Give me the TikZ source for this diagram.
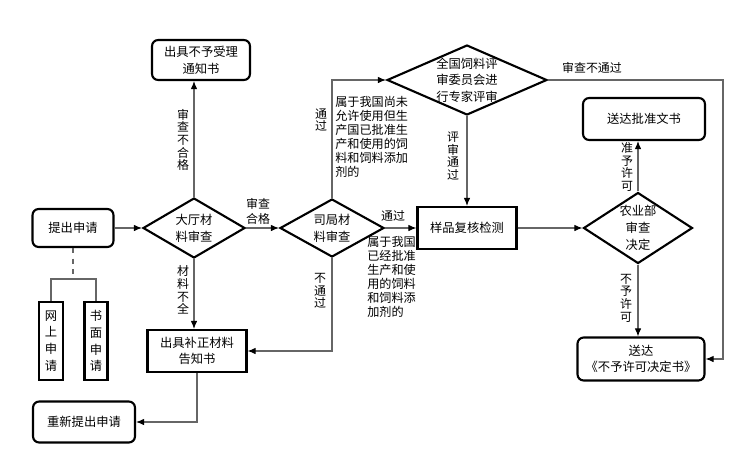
\documentclass[tikz,border=0pt]{standalone}
\usepackage{fontspec}
\newfontfamily\cjk{Noto Sans CJK SC}
\usetikzlibrary{arrows.meta}
\usetikzlibrary{shapes.geometric}
\tikzset{
  rbox/.style={draw, line width=1.2pt, rounded corners=3.5pt, align=center, inner sep=0pt},
  sbox/.style={draw, line width=1.2pt, align=center, inner sep=0pt},
  dia/.style={draw, diamond, line width=1.2pt, align=center, inner sep=0pt},
  conn/.style={draw=black!60, line width=0.6pt, arrows={-Latex[color=black, length=1.6mm, width=1.3mm]}},
  vlbl/.style={align=center, font=\cjk\fontsize{6.8}{7.2}\selectfont, inner sep=0pt},
  hlbl/.style={align=left, font=\cjk\fontsize{6.9}{8}\selectfont, inner sep=0pt},
}

\begin{document}
\begin{tikzpicture}[x=0.02cm, y=-0.02cm, font=\cjk\fontsize{7}{9.5}\selectfont]
    \useasboundingbox (0,0) rectangle (750,464);
    % Boxes
    \node[rbox, minimum width=1.96cm, minimum height=0.8cm] (nb) at (201,60) {出具不予受理\\通知书};
    \node[rbox, minimum width=1.62cm, minimum height=0.76cm] (tc) at (73,228) {提出申请};
    \node[sbox, minimum width=0.48cm, minimum height=1.56cm] (ws) at (51,341) {网\\上\\申\\请};
    \node[sbox, minimum width=0.46cm, minimum height=1.56cm] (sm) at (96,341) {书\\面\\申\\请};
    \node[sbox, minimum width=1.98cm, minimum height=0.84cm] (bz) at (197,351) {出具补正材料\\告知书};
    \node[rbox, minimum width=2.04cm, minimum height=0.82cm] (cx) at (84,422) {重新提出申请};
    \node[sbox, minimum width=1.98cm, minimum height=0.84cm] (yp) at (467,228) {样品复核检测};
    \node[rbox, minimum width=2.44cm, minimum height=0.84cm] (pz) at (644,119) {送达批准文书};
    \node[rbox, minimum width=2.54cm, minimum height=0.86cm] (bt) at (641,359) {送达\\《不予许可决定书》};
    % Decisions
    \node[dia, shape aspect=1.7, minimum width=2.04cm, minimum height=1.2cm] (dt) at (194,228) {大厅材\\料审查};
    \node[dia, shape aspect=1.8, minimum width=2.08cm, minimum height=1.16cm] (sj) at (332,228) {司局材\\料审查};
    \node[dia, shape aspect=2.29, inner sep=-2pt, minimum width=3.2cm, minimum height=1.4cm] (qg) at (467,80) {全国饲料评\\审委员会进\\行专家评审};
    \node[dia, shape aspect=1.54, minimum width=2.18cm, minimum height=1.42cm] (ny) at (638,228) {农业部\\审查\\决定};
    % Connectors
    \coordinate (fk) at (73,279);
    \coordinate (rt) at (723,80);
    \draw[black!60, line width=0.6pt, dashed] (tc.south) -- (fk);
    \draw[black!60, line width=0.6pt] (ws.north) |- (fk) -| (sm.north);
    \draw[conn] (tc.east) -- (dt.west);
    \draw[conn] (dt.north) -- (dt.north |- nb.south);
    \draw[conn] (dt.south) -- (dt.south |- bz.north);
    \draw[conn] (dt.east) -- (sj.west);
    \draw[conn] (sj.north) |- (qg.west);
    \draw[conn] (sj.east) -- (yp.west);
    \draw[conn] (sj.south) |- (bz.east);
    \draw[conn] (bz.south) |- (cx.east);
    \draw[conn] (qg.south) -- (yp.north);
    \draw[conn] (yp.east) -- (ny.west);
    \draw[conn] (ny.north) -- (ny.north |- pz.south);
    \draw[conn] (ny.south) -- (ny.south |- bt.north);
    \draw[conn] (qg.east) -- (rt) |- (bt.east);
    % Labels
    \node[vlbl] (l1) at (183,140) {审\\查\\不\\合\\格};
    \node[vlbl] (l2) at (183,290) {材\\料\\不\\全};
    \node[vlbl, font=\cjk\fontsize{6.8}{8.6}\selectfont] (l3) at (258,211) {审查\\合格};
    \node[vlbl] (l4) at (321,120) {通\\过};
    \node[hlbl, anchor=north west] (l5) at (335,96) {属于我国尚未\\允许使用但生\\产国已批准生\\产和使用的饲\\料和饲料添加\\剂的};
    \node[vlbl] (l6) at (393,216) {通过};
    \node[hlbl, anchor=north west] (l7) at (367,236) {属于我国\\已经批准\\生产和使\\用的饲料\\和饲料添\\加剂的};
    \node[vlbl] (l8) at (320,291) {不\\通\\过};
    \node[vlbl] (l9) at (453,156) {评\\审\\通\\过};
    \node[vlbl] (l10) at (592,68) {审查不通过};
    \node[vlbl] (l11) at (627,167) {准\\予\\许\\可};
    \node[vlbl] (l12) at (626,298) {不\\予\\许\\可};
\end{tikzpicture}
\end{document}
